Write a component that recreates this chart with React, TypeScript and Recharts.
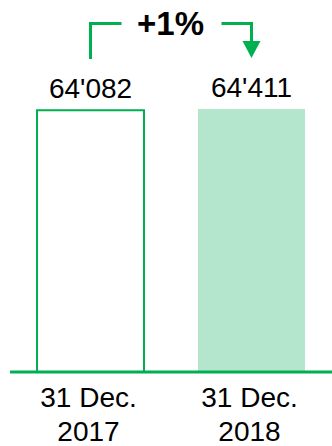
import { BarChart, Bar, XAxis, YAxis, Cell, LabelList } from "recharts";

const categories = ["31 Dec. 2017", "31 Dec. 2018"];
const values = [64082, 64411];
const changeLabel = "+1%";

const GREEN = "#00b050";
const LIGHT_GREEN = "#b3e6cc";
const FONT = "'Liberation Sans', Arial, sans-serif";

const data = categories.map((c, i) => ({ name: c, value: values[i] }));

const fmt = (v: number) => v.toLocaleString("en-US").replace(/,/g, "'");

function DateTick(props: any) {
  const { x, y, payload } = props;
  const text: string = payload.value;
  const cut = text.lastIndexOf(" ");
  return (
    <text x={x - 2} y={y} textAnchor="middle" fontSize={28} fill="#000" fontFamily={FONT}>
      <tspan x={x - 2} dy={27}>{text.slice(0, cut)}</tspan>
      <tspan x={x - 2} dy={34}>{text.slice(cut + 1)}</tspan>
    </text>
  );
}

// bracket + arrow showing the change between the two bars
function ChangeBracket(props: any) {
  const vb = props.viewBox || {};
  const x = props.x ?? vb.x;
  const y = props.y ?? vb.y;
  const width = props.width ?? vb.width;
  const height = props.height ?? vb.height;
  const cx = x + width / 2;
  const base = y + height;
  const top = base - 348.5;
  if (props.index === 0) {
    return (
      <polyline
        points={`${cx},${base - 313} ${cx},${top} ${cx + 31},${top}`}
        fill="none"
        stroke={GREEN}
        strokeWidth={3}
      />
    );
  }
  return (
    <g>
      <polyline
        points={`${cx - 30},${top} ${cx},${top} ${cx},${base - 331}`}
        fill="none"
        stroke={GREEN}
        strokeWidth={3}
      />
      <polygon
        points={`${cx - 9},${base - 331} ${cx + 9},${base - 331} ${cx},${base - 314}`}
        fill={GREEN}
      />
      <text
        x={cx - 81}
        y={base - 337}
        textAnchor="middle"
        fontSize={33}
        fontWeight="bold"
        fontFamily={FONT}
        fill="#000"
      >
        {changeLabel}
      </text>
    </g>
  );
}

export default function App() {
  return (
    <div style={{ position: "absolute", left: 0, top: 0, background: "#fff" }}>
      <BarChart
        width={332}
        height={446}
        data={data}
        margin={{ top: 109, right: 0, left: 10, bottom: 0 }}
      >
        <YAxis hide domain={[0, "dataMax"]} />
        <XAxis
          dataKey="name"
          height={74}
          axisLine={{ stroke: GREEN, strokeWidth: 3 }}
          tickLine={false}
          tick={<DateTick />}
          interval={0}
        />
        <Bar dataKey="value" barSize={107} isAnimationActive={false}>
          {data.map((d, i) => (
            <Cell
              key={d.name}
              fill={i === 0 ? "#fff" : LIGHT_GREEN}
              stroke={i === 0 ? GREEN : "none"}
              strokeWidth={i === 0 ? 2 : 0}
            />
          ))}
          <LabelList
            dataKey="value"
            position="top"
            offset={12}
            formatter={(v: any) => fmt(Number(v))}
            fontSize={28}
            fill="#000"
            fontFamily={FONT}
          />
          <LabelList dataKey="value" content={<ChangeBracket />} />
        </Bar>
      </BarChart>
    </div>
  );
}
